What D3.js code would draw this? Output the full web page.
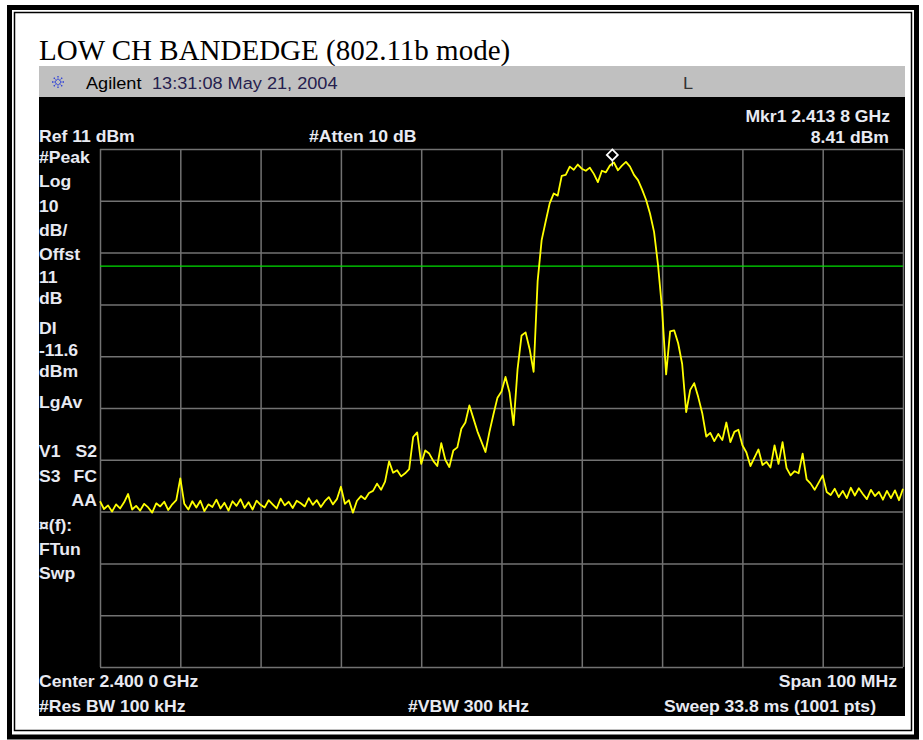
<!DOCTYPE html>
<html>
<head>
<meta charset="utf-8">
<script src="https://cdn.jsdelivr.net/npm/d3@7"></script>
<style>
  body { margin: 0; background: #fff; }
  svg text { font-family: "Liberation Sans", Arial, sans-serif; }
</style>
</head>
<body>
<svg id="chart" width="923" height="740"></svg>
<script>
// sweep settings (MHz / dBm)
const startFreq = 2350;
const stopFreq = 2450;
const refLevel = 11;
const dbPerDiv = 10;
const divisions = 10;
const displayLine = -11.6;
const markerFreq = 2413.8;
const markerLevel = 8.41;

// trace, one value every 0.5 MHz
const traceLevels = [
  -57.0, -58.5, -57.8, -59.0, -57.6, -58.4, -57.2, -55.6, -58.6, -57.9,
  -58.8, -57.5, -58.2, -59.2, -57.4, -58.0, -57.1, -58.7, -57.6, -56.8,
  -52.6, -57.5, -58.6, -57.0, -58.2, -56.9, -58.9, -57.6, -58.1, -56.7,
  -58.4, -57.3, -58.8, -57.0, -57.9, -56.6, -58.3, -57.2, -58.6, -56.9,
  -57.7, -58.2, -56.8, -57.6, -58.4, -56.5, -57.8, -57.1, -58.3, -56.9,
  -57.4, -58.0, -56.4, -57.7, -56.8, -58.1, -57.0, -56.2, -57.6, -56.6,
  -54.2, -57.5, -56.8, -59.2, -56.9, -56.0, -56.6, -55.4, -55.0, -53.6,
  -54.8, -53.2, -49.3, -51.5, -51.0, -52.2, -51.6, -50.8, -44.6, -43.7,
  -49.8, -47.2, -47.8, -49.2, -50.2, -45.8, -49.0, -50.4, -47.2, -46.6,
  -43.0, -41.8, -38.5, -41.0, -43.5, -45.5, -47.5, -43.6, -40.2, -37.0,
  -35.8, -33.0, -36.0, -42.3, -31.5, -25.0, -24.4, -27.6, -32.0, -14.5,
  -6.6, -3.0, 0.5, 2.4, 2.0, 5.8, 6.0, 7.6, 7.0, 8.0,
  7.2, 6.8, 7.4, 6.2, 4.6, 6.8, 6.5, 7.8, 8.4, 6.9,
  7.8, 8.5, 7.6, 6.0, 5.0, 3.2, 1.2, -1.5, -5.0, -11.5,
  -20.0, -32.5, -24.2, -24.0, -26.5, -30.5, -39.8, -35.5, -34.2, -36.9,
  -40.0, -44.5, -43.8, -45.4, -44.0, -45.2, -41.8, -45.6, -43.6, -43.2,
  -46.2, -47.6, -50.2, -48.6, -47.0, -50.0, -49.4, -50.5, -46.2, -49.8,
  -45.6, -50.6, -52.0, -51.2, -51.6, -47.8, -52.8, -53.6, -54.8, -53.4,
  -52.0, -55.2, -55.8, -54.6, -56.2, -55.0, -56.4, -54.4, -55.9, -54.5,
  -55.6, -56.6, -54.8, -56.0, -55.2, -56.7, -55.0, -56.4, -54.9, -56.8,
  -54.6
];

const title = 'LOW CH BANDEDGE (802.11b mode)';
const leftLabels = ['#Peak', 'Log', '10', 'dB/', 'Offst', '11', 'dB', 'DI', '-11.6', 'dBm', 'LgAv'];
const leftLabelY = [163, 187, 212, 236, 260, 283, 304, 334, 356, 377, 408];
const statusLeft = ['V1', 'S3', '', '¤(f):', 'FTun', 'Swp'];
const statusRight = ['S2', 'FC', 'AA', '', '', ''];
const statusY = [457, 482, 506, 531, 555, 579];

let svg = d3.select('#chart');

let plot = { left: 100, right: 903, top: 149, bottom: 667 };

let x = d3.scaleLinear()
    .domain([startFreq, stopFreq])
    .range([plot.left, plot.right]);

let y = d3.scaleLinear()
    .domain([refLevel - dbPerDiv * divisions, refLevel])
    .range([plot.bottom, plot.top]);

// page frame (double rule)
svg.append('rect')
    .attr('x', 9.5).attr('y', 7.5).attr('width', 907).attr('height', 729.5)
    .attr('fill', 'none').attr('stroke', '#000').attr('stroke-width', 5);
svg.append('rect')
    .attr('x', 14.5).attr('y', 12.5).attr('width', 897).attr('height', 718)
    .attr('fill', 'none').attr('stroke', '#000').attr('stroke-width', 1.5);

svg.append('text')
    .attr('x', 39).attr('y', 60)
    .style('font-family', '"Liberation Serif", "Times New Roman", serif')
    .style('font-size', '29px')
    .attr('fill', '#000')
    .text(title);

// instrument header + screen
svg.append('rect').attr('x', 39).attr('y', 66).attr('width', 866).attr('height', 31).attr('fill', '#c0c0c0');
svg.append('rect').attr('x', 39).attr('y', 97).attr('width', 866).attr('height', 619).attr('fill', '#000');

function label(str, px, py, opts = {}) {
    return svg.append('text')
        .attr('transform', `translate(${px},${py}) scale(1.1,1)`)
        .attr('text-anchor', opts.anchor || 'start')
        .attr('fill', opts.color || '#e8eaf2')
        .style('font-size', (opts.size || 16) + 'px')
        .style('font-weight', opts.weight || 'bold')
        .text(str);
}

// agilent spark logo
let logo = svg.append('g').attr('transform', 'translate(58,82)');
d3.range(8).forEach(k => {
    let a = k * Math.PI / 4;
    logo.append('line')
        .attr('x1', Math.cos(a) * 2).attr('y1', Math.sin(a) * 2)
        .attr('x2', Math.cos(a) * 7).attr('y2', Math.sin(a) * 7)
        .attr('stroke', '#2b3fd8').attr('stroke-width', 1.3)
        .attr('stroke-dasharray', '1.5,1');
});

label('Agilent', 86, 89, { color: '#000', weight: 'normal', size: 16.5 });
label('13:31:08  May 21, 2004', 152, 89, { color: '#26204e', weight: 'normal', size: 16.5 });
label('L', 683, 89, { color: '#333', weight: 'normal', size: 16.5 });

label('Mkr1  2.413 8 GHz', 890, 122, { anchor: 'end' });
label('8.41 dBm', 889, 143, { anchor: 'end' });
label('Ref 11 dBm', 39, 142);
label('#Atten 10 dB', 309, 142);

leftLabels.forEach((t, i) => label(t, 39, leftLabelY[i]));
statusLeft.forEach((t, i) => { if (t) label(t, 39, statusY[i]); });
statusRight.forEach((t, i) => { if (t) label(t, 97, statusY[i], { anchor: 'end' }); });

label('Center 2.400 0 GHz', 39, 687);
label('Span 100 MHz', 897, 687, { anchor: 'end' });
label('#Res BW 100 kHz', 39, 712);
label('#VBW 300 kHz', 408, 712);
label('Sweep 33.8 ms (1001 pts)', 664, 712);

// graticule from the axes
let gridColor = '#727272';

let xGrid = svg.append('g')
    .attr('transform', `translate(0,${plot.bottom})`)
    .call(d3.axisBottom(x)
        .tickValues(d3.range(divisions + 1).map(k => startFreq + k * (stopFreq - startFreq) / divisions))
        .tickSize(-(plot.bottom - plot.top))
        .tickFormat(''));

let yGrid = svg.append('g')
    .attr('transform', `translate(${plot.left},0)`)
    .call(d3.axisLeft(y)
        .tickValues(d3.range(divisions + 1).map(k => refLevel - k * dbPerDiv))
        .tickSize(-(plot.right - plot.left))
        .tickFormat(''));

[xGrid, yGrid].forEach(g => {
    g.select('.domain').remove();
    g.selectAll('line').attr('stroke', gridColor).attr('stroke-width', 1.5);
});

// display line
svg.append('line')
    .attr('x1', plot.left).attr('x2', plot.right)
    .attr('y1', y(displayLine)).attr('y2', y(displayLine))
    .attr('stroke', '#00e000').attr('stroke-width', 1.2);

// trace
let step = (stopFreq - startFreq) / (traceLevels.length - 1);
let trace = traceLevels.map((v, i) => ({ f: startFreq + i * step, v: v }));

svg.append('path')
    .datum(trace)
    .attr('fill', 'none')
    .attr('stroke', '#ffff00')
    .attr('stroke-width', 1.8)
    .attr('stroke-linejoin', 'round')
    .attr('d', d3.line().x(d => x(d.f)).y(d => y(d.v)));

// marker diamond
let mx = x(markerFreq);
let my = y(markerLevel);
svg.append('line')
    .attr('x1', mx).attr('x2', mx).attr('y1', my - 2).attr('y2', my + 4)
    .attr('stroke', '#fff').attr('stroke-width', 1);
svg.append('path')
    .attr('d', `M${mx},${my - 13} L${mx + 5.5},${my - 7.5} L${mx},${my - 2} L${mx - 5.5},${my - 7.5} Z`)
    .attr('fill', 'none')
    .attr('stroke', '#fff')
    .attr('stroke-width', 1.8);
</script>
</body>
</html>
